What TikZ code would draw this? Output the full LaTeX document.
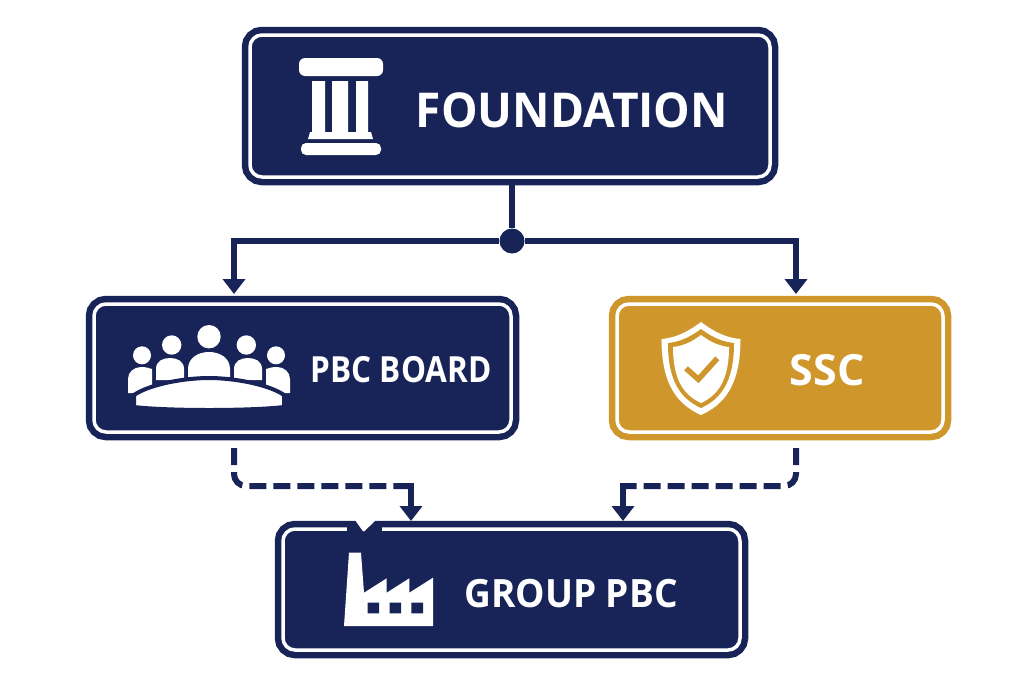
\documentclass[tikz,border=0pt]{standalone}
\usepackage{graphicx}
\usepackage{fontspec}
\setmainfont{Open Sans}
\usetikzlibrary{positioning,calc,arrows.meta}
\definecolor{navy}{RGB}{24,36,88}
\definecolor{gold}{RGB}{207,150,43}
\tikzset{standard edge/.style={draw=navy,line width=6pt,-{Triangle[width=22pt,length=15pt]}},
 plain edge/.style={draw=navy,line width=6pt},
 dash edge/.style={draw=navy,line width=6pt,dash pattern=on 17pt off 7pt,rounded corners=12pt}}
\newcommand{\shieldpath}[4]{(701,#2) .. controls ({701-.4*#1},{#2+.7*(#3-#2)}) and ({701-.7*#1},{#3-1}) .. ({701-#1},#3)
 .. controls ({701-#1},{#3+.6*(#4-#3)}) and ({701-.6*#1},{#4-.14*(#4-#3)}) .. (701,#4)
 .. controls ({701+.6*#1},{#4-.14*(#4-#3)}) and ({701+#1},{#3+.6*(#4-#3)}) .. ({701+#1},#3)
 .. controls ({701+.7*#1},{#3-1}) and ({701+.4*#1},{#2+.7*(#3-#2)}) .. (701,#2) -- cycle}
\begin{document}
\begin{tikzpicture}[x=1pt,y=-1pt,
 box/.style={draw=#1,fill=#1,double=white,double distance=3.5pt,line width=6.5pt,rounded corners=12pt,inner sep=0pt},
 boxtext/.style={text=white,inner sep=0pt},
 icon/.style={fill=white,draw=none}]
\useasboundingbox (0,0) rectangle (1024,683);

\node[box=navy,minimum width=520pt,minimum height=142pt] (FOUND) at (510,106) {};
\node[box=navy,minimum width=417pt,minimum height=128pt] (PBC) at (302.5,368) {};
\node[box=gold,minimum width=326pt,minimum height=128pt] (SSC) at (780,368) {};
\node[box=navy,minimum width=457pt,minimum height=121pt] (GRP) at (511.5,589.5) {};

\node[boxtext,font=\bfseries\fontsize{48}{48}\selectfont] (FOUNDtxt) at (572,110) {\scalebox{.96}[1]{FOUNDATION}};
\node[boxtext,font=\bfseries\fontsize{36}{36}\selectfont] (PBCtxt) at (401,370) {\scalebox{.875}[1]{PBC BOARD}};
\node[boxtext,font=\bfseries\fontsize{43}{43}\selectfont] (SSCtxt) at (827,370) {\scalebox{1}[1]{SSC}};
\node[boxtext,font=\bfseries\fontsize{39}{39}\selectfont] (GRPtxt) at (571,594) {\scalebox{.95}[1]{GROUP PBC}};

% connectors
\node[circle,fill=navy,minimum size=25pt,inner sep=0pt] (JN) at (512,241) {};
\coordinate (FOUNDout) at (512,184);
\coordinate (PBCin) at (234,294);
\coordinate (SSCin) at (796,294);
\coordinate (PBCout) at (234,448);
\coordinate (SSCout) at (796,448);
\coordinate (PBCknee) at (410,486);
\coordinate (SSCknee) at (623,486);
\coordinate (GRPa) at (411,521);
\coordinate (GRPb) at (623,521);
\draw[plain edge] (FOUNDout) -- (JN);
\draw[standard edge] (JN) -| (PBCin);
\draw[standard edge] (JN) -| (SSCin);
\draw[dash edge] (PBCout) |- (PBCknee);
\draw[dash edge] (SSCout) |- (SSCknee);
\draw[standard edge] ($(PBCknee)+(-10,0)$) -| (GRPa);
\draw[standard edge] ($(SSCknee)+(10,0)$) -| (GRPb);

% notch in the lower box
\fill[navy] (347,524) rectangle (382,534);
\fill[white,rounded corners=1pt] (355,520) -- (376,520) -- (363.5,532) -- cycle;

% column
\fill[icon,rounded corners=6pt] (299,58) rectangle (383,76);
\fill[icon] (312,81) rectangle (325,132) (332,81) rectangle (348,132) (356,81) rectangle (368,132);
\fill[icon] (310,132) -- (371,132) -- (373,139) -- (308,139) -- cycle;
\fill[icon,rounded corners=5pt] (301,143) rectangle (381,155);

% board
\fill[icon] (209,336.7) circle (11.7);
\foreach \s in {1,-1} {
 \begin{scope}[shift={(209,0)},xscale=\s]
 \fill[icon] (-37.3,345) circle (9.7);
 \fill[icon] (-67,355.3) circle (9);
 \fill[icon] (-53,380) -- (-53,369) .. controls (-53,361) and (-46,358) .. (-39,358) .. controls (-32,358) and (-25,361) .. (-25,369) -- (-25,380) -- cycle;
 \fill[icon] (-81,393) -- (-81,379) .. controls (-81,372) and (-75,367) .. (-68,367) .. controls (-63,367) and (-60,368) .. (-57,369) -- (-57,393) -- cycle;
 \end{scope}}
\fill[icon] (188,378) -- (188,369) .. controls (188,358) and (198,352) .. (209,352) .. controls (220,352) and (230,358) .. (230,369) -- (230,378) -- cycle;
\filldraw[fill=white,draw=navy,line width=4pt] (134,407) -- (134,395) .. controls (150,384) and (185,378) .. (209,378) .. controls (233,378) and (268,384) .. (284,395) -- (284,407) .. controls (250,411) and (168,411) .. (134,407) -- cycle;

% shield
\fill[icon] \shieldpath{39.5}{322}{339}{415};
\fill[gold] \shieldpath{33}{329}{343}{408};
\fill[icon] \shieldpath{28}{335}{347}{403};
\draw[gold,line width=5.5pt] (686,368.3) -- (698.3,379.3) -- (717.3,358.3);

% factory
\fill[icon] (349,552.7) -- (361,552.7) -- (364,592.7) -- (386.7,578.3) -- (386.7,592.7) -- (409.3,578.3) -- (409.3,592.7) -- (433,577.7) -- (433,626) -- (344,626) -- cycle;
\fill[navy] (367.7,602.7) rectangle (379,613.3) (389.7,602.7) rectangle (401,613.3) (411.3,602.7) rectangle (423,613.3);
\end{tikzpicture}
\end{document}
